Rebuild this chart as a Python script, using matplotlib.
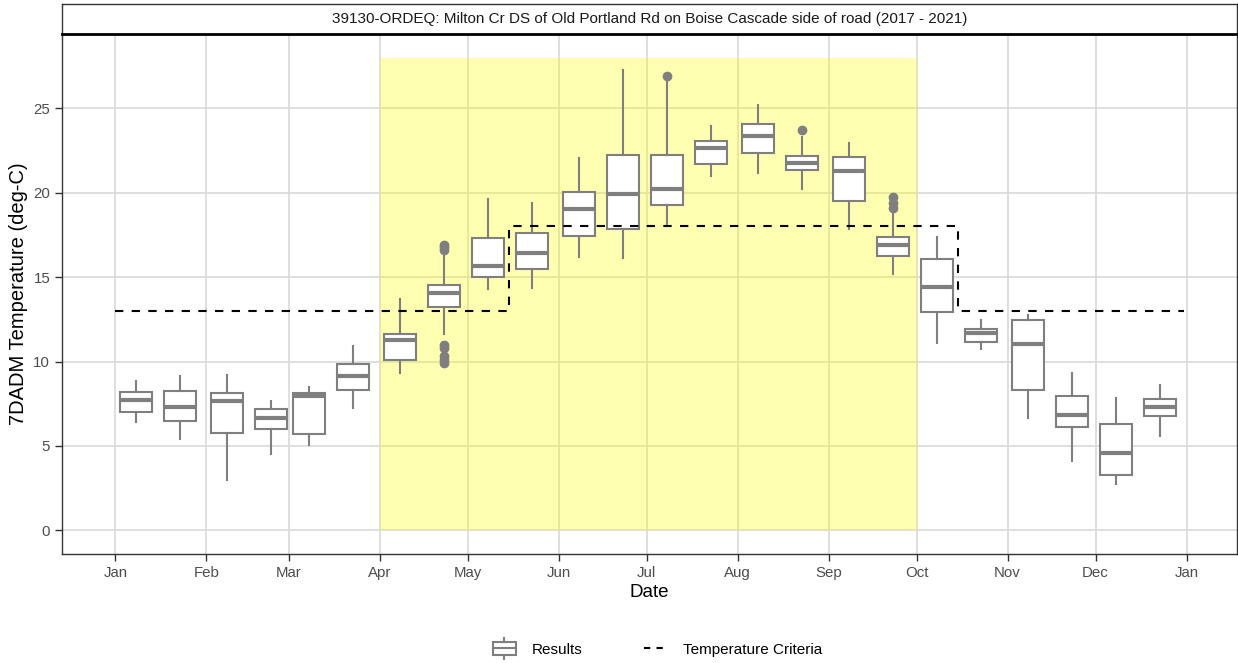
# -*- coding: utf-8 -*-

import matplotlib
matplotlib.use("Agg")
import matplotlib.pyplot as plt
import numpy as np
import pandas as pd
from matplotlib.patches import Rectangle
from matplotlib.lines import Line2D
from matplotlib.legend_handler import HandlerBase

plt.rcParams['font.family'] = ['Liberation Sans', 'DejaVu Sans']

TITLE = "39130-ORDEQ: Milton Cr DS of Old Portland Rd on Boise Cascade side of road (2017 - 2021)"

# box positions (month-day, placed on a single year)
box_dates = ['01-08', '01-23', '02-08', '02-23', '03-08', '03-23',
             '04-08', '04-23', '05-08', '05-23', '06-08', '06-23',
             '07-08', '07-23', '08-08', '08-23', '09-08', '09-23',
             '10-08', '10-23', '11-08', '11-23', '12-08', '12-23']
whis_lo = [6.42, 5.43, 3.00, 4.54, 5.05, 7.23, 9.32, 11.65, 14.28, 14.38, 16.21, 16.11,
           18.13, 20.99, 21.15, 20.20, 17.83, 15.17, 11.08, 10.76, 6.67, 4.10, 2.77, 5.59]
q1 = [7.03, 6.48, 5.75, 6.02, 5.71, 8.29, 10.07, 13.23, 15.03, 15.46, 17.46, 17.83,
      19.25, 21.72, 22.35, 21.33, 19.51, 16.25, 12.93, 11.18, 8.29, 6.14, 3.30, 6.77]
med = [7.72, 7.33, 7.64, 6.67, 7.94, 9.14, 11.26, 14.08, 15.66, 16.41, 19.06, 19.90,
       20.20, 22.65, 23.36, 21.78, 21.29, 16.88, 14.44, 11.71, 11.02, 6.81, 4.56, 7.33]
q3 = [8.21, 8.25, 8.14, 7.17, 8.12, 9.85, 11.65, 14.51, 17.32, 17.64, 20.04, 22.26,
      22.24, 23.06, 24.05, 22.20, 22.10, 17.40, 16.05, 11.95, 12.46, 7.96, 6.28, 7.76]
whis_hi = [8.85, 9.12, 9.22, 7.66, 8.51, 10.94, 13.72, 16.25, 19.61, 19.37, 22.08, 27.27,
           26.70, 23.95, 25.18, 23.30, 22.97, 18.82, 17.40, 12.44, 12.74, 9.32, 7.86, 8.59]
outliers = [[], [], [], [], [], [], [],
            [16.6, 16.8, 16.9, 11.0, 10.8, 10.3, 10.1, 9.9],
            [], [], [], [], [26.92], [], [], [23.72], [],
            [19.77, 19.37, 19.10], [], [], [], [], [], []]

# temperature criteria (step, starts on the given day)
crit_dates = ['01-01', '05-15', '10-15', '12-31']
crit_values = [13, 18, 13, 13]

# spawning period shading
spawn_start, spawn_end, spawn_top = '04-01', '10-01', 28

month_labels = ['Jan', 'Feb', 'Mar', 'Apr', 'May', 'Jun', 'Jul', 'Aug', 'Sep',
                'Oct', 'Nov', 'Dec', 'Jan']


def doy(md):
    return pd.Timestamp('2021-' + md).dayofyear - 1


box_x = np.array([doy(d) for d in box_dates])
crit_x = np.array([doy(d) for d in crit_dates])
month_x = [pd.Timestamp(2021, m, 1).dayofyear - 1 for m in range(1, 13)] + [365]

GRAY = '#7F7F7F'


class BoxHandler(HandlerBase):
    def create_artists(self, legend, orig_handle, xdescent, ydescent,
                       width, height, fontsize, trans):
        cx = width / 2 - xdescent
        w = width * 0.95
        r = Rectangle((cx - w / 2, -ydescent - height * 0.1), w, height * 1.2,
                      facecolor='white', edgecolor=GRAY, lw=1.5, transform=trans)
        m = Line2D([cx - w / 2, cx + w / 2], [height * 0.5 - ydescent] * 2,
                   color=GRAY, lw=1.5, transform=trans)
        wt = Line2D([cx, cx], [height * 1.1 - ydescent, height * 1.5 - ydescent],
                    color=GRAY, lw=1.5, transform=trans)
        wb = Line2D([cx, cx], [-ydescent - height * 0.1, -ydescent - height * 0.5],
                    color=GRAY, lw=1.5, transform=trans)
        return [r, m, wt, wb]


fig = plt.figure(figsize=(12.38, 6.63), dpi=100)
ax = fig.add_axes([62 / 1238, 1 - 554 / 663, 1175 / 1238, 520 / 663])

stats = []
for i in range(len(box_x)):
    stats.append(dict(med=med[i], q1=q1[i], q3=q3[i], whislo=whis_lo[i],
                      whishi=whis_hi[i], fliers=outliers[i]))

ax.add_patch(Rectangle((doy(spawn_start), 0), doy(spawn_end) - doy(spawn_start), spawn_top,
                       facecolor='#FFFF00', alpha=0.3, edgecolor='none', zorder=1))

ax.bxp(stats, positions=box_x, widths=10.7, showcaps=False, patch_artist=True,
       boxprops=dict(facecolor='white', edgecolor=GRAY, linewidth=1.5),
       medianprops=dict(color=GRAY, linewidth=3),
       whiskerprops=dict(color=GRAY, linewidth=1.5),
       flierprops=dict(marker='o', markerfacecolor=GRAY, markeredgecolor=GRAY,
                       markersize=6), zorder=3, manage_ticks=False)

ax.step(crit_x, crit_values, where='post', color='black', linestyle=(0, (4, 4)),
        linewidth=1.5, zorder=4)

ax.set_xlim(-18.2, 382.2)
ax.set_ylim(-1.4, 29.4)
ax.set_xticks(month_x)
ax.set_xticklabels(month_labels)
ax.set_yticks([0, 5, 10, 15, 20, 25])
ax.grid(True, color='#D9D9D9', linewidth=1.2, zorder=0)
ax.set_axisbelow(True)
ax.tick_params(colors='#333333', labelcolor='#4D4D4D', labelsize=10.8, length=5, width=1)
for s in ax.spines.values():
    s.set_color('#333333')
    s.set_linewidth(1)
ax.set_xlabel('Date', fontsize=13.5, color='black', labelpad=3)
ax.set_ylabel('7DADM Temperature (deg-C)', fontsize=14.5, color='black', labelpad=4)

# facet strip
sax = fig.add_axes([62 / 1238, 1 - 34 / 663, 1175 / 1238, 30 / 663])
sax.set_xticks([])
sax.set_yticks([])
for s in sax.spines.values():
    s.set_color('#333333')
    s.set_linewidth(1)
sax.spines['bottom'].set_color('black')
sax.spines['bottom'].set_linewidth(2)
sax.text(0.5, 0.5, TITLE, ha='center', va='center', fontsize=11, color='#1A1A1A',
         transform=sax.transAxes)

box_handle = Rectangle((0, 0), 1, 1)
line_handle = Line2D([], [], color='black', linestyle=(0, (3, 3)), linewidth=1.5)
fig.legend([box_handle, line_handle], ['Results', 'Temperature Criteria'],
           handler_map={Rectangle: BoxHandler()}, loc='center',
           bbox_to_anchor=(0.531, 0.02), ncol=2, frameon=False, fontsize=11,
           handlelength=1.6, handletextpad=1.0, columnspacing=4.0)

plt.savefig('out.png', dpi=100)
